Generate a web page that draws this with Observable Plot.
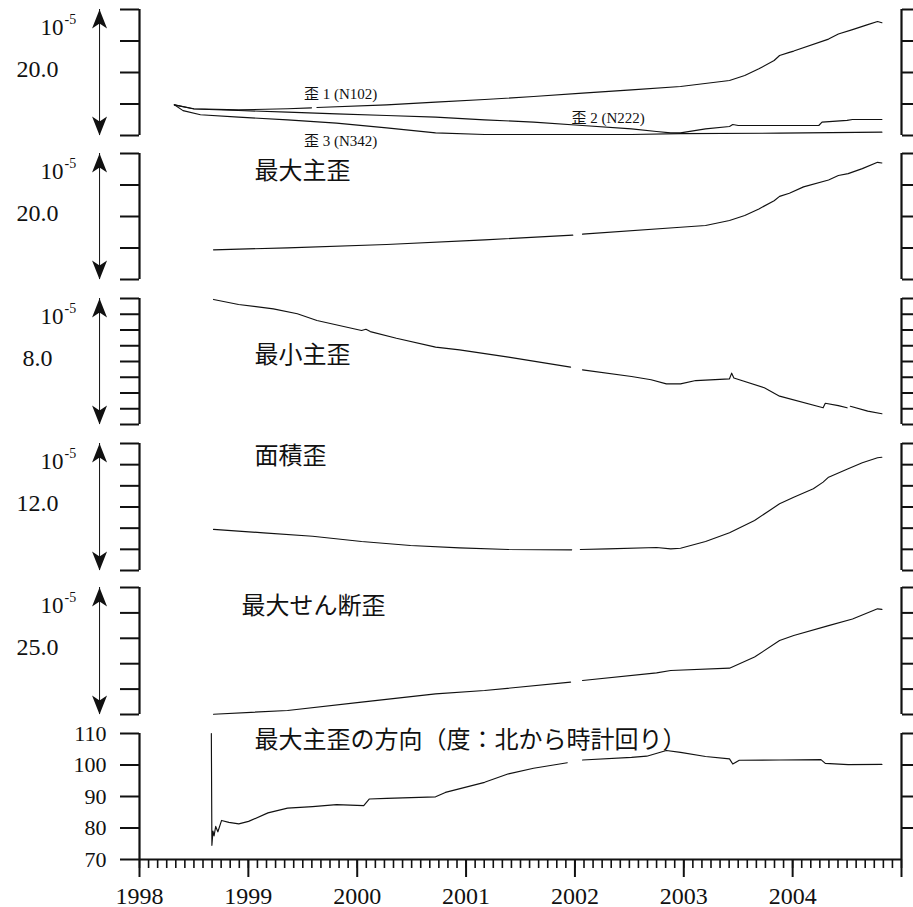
<!DOCTYPE html>
<html>
<head>
<meta charset="utf-8">
<script src="https://cdn.jsdelivr.net/npm/d3@7"></script>
<script src="https://cdn.jsdelivr.net/npm/@observablehq/plot@0.6"></script>
<style>
html, body { margin: 0; padding: 0; background: #fff; overflow: hidden; }
#chart { position: relative; width: 913px; height: 907px; }
#chart svg { position: absolute; left: 0; overflow: visible; background: transparent; font-family: 'Liberation Serif', serif; }
</style>
</head>
<body>
<div id="chart"></div>
<script>
// ---------------- data (decimal year, value) ----------------
// panel 1: strain components (10^-5)
const strain1 = [[1998.32,4.87],[1998.50,4.25],[1998.91,4.07],[1999.36,4.25],[1999.58,4.39],[1999.60,null],[1999.63,4.45],[2000.27,4.87],[2000.72,5.29],[2001.17,5.71],[2001.62,6.19],[2002.07,6.72],[2002.52,7.25],[2002.97,7.78],[2003.42,8.73],[2003.56,9.52],[2003.69,10.58],[2003.83,11.9],[2003.88,12.7],[2003.97,13.2],[2004.01,13.4],[2004.33,15.3],[2004.42,16.1],[2004.55,16.8],[2004.69,17.6],[2004.78,18.1],[2004.82,17.9]];
const strain2 = [[1998.32,4.87],[1998.50,4.2],[1998.91,3.97],[1999.36,3.7],[1999.81,3.44],[2000.27,3.17],[2000.72,2.91],[2001.17,2.49],[2001.62,2.12],[2002.07,1.59],[2002.52,1.06],[2002.75,0.63],[2002.88,0.42],[2002.97,0.42],[2003.20,1.06],[2003.42,1.43],[2003.45,1.75],[2003.50,1.59],[2004.24,1.59],[2004.27,2.12],[2004.50,2.4],[2004.55,2.54],[2004.82,2.54]];
const strain3 = [[1998.32,4.87],[1998.40,3.95],[1998.56,3.3],[1998.91,2.91],[1999.36,2.49],[1999.81,1.96],[2000.27,1.22],[2000.72,0.42],[2001.17,0.16],[2002.52,0.16],[2002.97,0.3],[2003.88,0.37],[2004.82,0.53]];
// panel 2: maximum principal strain
const maxPrincipal = [[1998.68,4.71],[1999.36,5.03],[2000.27,5.56],[2001.17,6.3],[2001.98,7.04],[2002.02,null],[2002.07,7.2],[2002.97,8.3],[2003.20,8.57],[2003.42,9.37],[2003.56,10.16],[2003.69,11.2],[2003.83,12.5],[2003.88,13.2],[2003.97,13.7],[2004.10,14.7],[2004.33,15.8],[2004.42,16.5],[2004.51,16.8],[2004.64,17.6],[2004.78,18.6],[2004.82,18.5]];
// panel 3: minimum principal strain
const minPrincipal = [[1998.68,7.94],[1998.91,7.62],[1999.23,7.34],[1999.45,7.03],[1999.63,6.6],[2000.04,5.97],[2000.08,6.05],[2000.12,5.9],[2000.36,5.48],[2000.72,4.91],[2000.94,4.74],[2001.39,4.28],[2001.96,3.64],[2002.0,null],[2002.07,3.47],[2002.52,3.05],[2002.70,2.84],[2002.84,2.58],[2002.97,2.58],[2003.11,2.79],[2003.42,2.9],[2003.44,3.26],[2003.46,2.95],[2003.74,2.33],[2003.88,1.8],[2004.28,1.06],[2004.30,1.35],[2004.42,1.2],[2004.50,1.06],[2004.51,null],[2004.53,1.16],[2004.69,0.85],[2004.82,0.68]];
// panel 4: areal strain
const arealStrain = [[1998.68,3.88],[1999.14,3.56],[1999.59,3.24],[2000.04,2.74],[2000.49,2.36],[2000.94,2.14],[2001.39,1.98],[2001.97,1.95],[2002.0,null],[2002.05,1.98],[2002.30,2.05],[2002.75,2.17],[2002.88,2.05],[2002.97,2.1],[2003.20,2.74],[2003.42,3.56],[2003.65,4.73],[2003.88,6.3],[2004.01,6.93],[2004.19,7.72],[2004.28,8.35],[2004.33,8.82],[2004.51,9.61],[2004.64,10.18],[2004.78,10.65],[2004.82,10.7]];
// panel 5: maximum shear strain
const maxShear = [[1998.68,0.05],[1999.36,0.79],[2000.04,2.43],[2000.72,4.07],[2001.17,4.72],[2001.96,6.36],[2002.0,null],[2002.07,6.69],[2002.75,8.2],[2002.88,8.66],[2003.42,9.12],[2003.65,11.3],[2003.88,14.57],[2004.01,15.55],[2004.33,17.5],[2004.55,18.8],[2004.78,20.8],[2004.82,20.7]];
// panel 6: direction of max principal strain (deg, clockwise from north)
const direction = [[1998.660,110],[1998.665,74.5],[1998.675,79],[1998.685,77.5],[1998.70,80.5],[1998.72,78.8],[1998.754,82.4],[1998.821,81.8],[1998.912,81.3],[1999.002,82.1],[1999.18,84.8],[1999.36,86.3],[1999.59,86.8],[1999.81,87.4],[2000.06,87.1],[2000.11,89.2],[2000.27,89.4],[2000.72,89.9],[2000.81,91.3],[2001.17,94.5],[2001.39,97.2],[2001.62,98.95],[2001.93,100.7],[2002.0,null],[2002.07,101.6],[2002.52,102.4],[2002.66,102.8],[2002.84,104.6],[2002.97,104.0],[2003.20,102.7],[2003.42,101.96],[2003.45,100.3],[2003.51,101.5],[2003.88,101.6],[2004.26,101.7],[2004.30,100.5],[2004.51,100.1],[2004.82,100.2]];

// ---------------- labels / ticks ----------------
const yearLabels = [1998, 1999, 2000, 2001, 2002, 2003, 2004];
const yearTicks = [1998, 1999, 2000, 2001, 2002, 2003, 2004, 2005];
const angleTicks = [70, 80, 90, 100, 110];
const scaleLabels = ["20.0", "20.0", "8.0", "12.0", "25.0"];
const panelTitles = [null, "最大主歪", "最小主歪", "面積歪", "最大せん断歪", "最大主歪の方向（度：北から時計回り）"];
const strainNames = ["歪 1 (N102)", "歪 2 (N222)", "歪 3 (N342)"];
const unitLabel = "10";
const unitExp = "-5";

// ---------------- layout ----------------
const INK = "#111";
const SERIF = "'Liberation Serif', serif";
const CJK = "'Noto Sans CJK JP', sans-serif";
const W = 913, ML = 139, MR = 12, MT = 9;
const XDOMAIN = [1998, 2005];
const ARROW_X = 1997.633;

const arrowUp = { draw(ctx) { ctx.moveTo(0, 0); ctx.lineTo(7.5, 19); ctx.lineTo(0, 14); ctx.lineTo(-7.5, 19); ctx.closePath(); } };
const arrowDown = { draw(ctx) { ctx.moveTo(0, 0); ctx.lineTo(7.5, -19); ctx.lineTo(0, -14); ctx.lineTo(-7.5, -19); ctx.closePath(); } };

const panels = [
  { series: [strain1, strain2, strain3], domain: [0, 20], step: 5, top: 9, bottom: 135 },
  { series: [maxPrincipal], domain: [0, 20], step: 5, top: 153, bottom: 279, titleDy: 18, titleDx: 115 },
  { series: [minPrincipal], domain: [0, 8], step: 1, top: 298, bottom: 424, titleDy: 57, titleDx: 115 },
  { series: [arealStrain], domain: [0, 12], step: 2, top: 443, bottom: 570, titleDy: 13, titleDx: 115 },
  { series: [maxShear], domain: [0, 25], step: 5, top: 587, bottom: 714, titleDy: 19, titleDx: 102 },
  { series: [direction], domain: [70, 110], step: 10, top: 733, bottom: 859, titleDy: 6.5, titleDx: 115, last: true }
];

const chart = document.getElementById("chart");

panels.forEach((p, i) => {
  const mb = p.last ? 48 : 9;
  const ticks = p.last ? angleTicks : d3.range(p.domain[0], p.domain[1] + p.step / 2, p.step);
  const marks = [];
  // frame sides
  marks.push(Plot.ruleX(XDOMAIN, { y1: p.domain[0], y2: p.domain[1], stroke: INK, strokeWidth: 2.2 }));
  // left ticks
  marks.push(Plot.axisY({
    anchor: "left", ticks, tickSize: 19, strokeWidth: 2, stroke: INK,
    tickPadding: 14, fontSize: 22, fontFamily: SERIF, fill: INK,
    tickFormat: p.last ? (d) => String(d) : () => ""
  }));
  // right ticks
  marks.push(Plot.axisY({
    anchor: "right", ticks: p.last ? ticks.filter(d => d > p.domain[0]) : ticks,
    tickSize: 12, strokeWidth: 2, stroke: INK, tickFormat: () => ""
  }));
  // data lines
  p.series.forEach(s => {
    marks.push(Plot.line(s, { x: d => d[0], y: d => d[1], stroke: INK, strokeWidth: 1.15, curve: "linear" }));
  });
  // title
  if (panelTitles[i]) {
    marks.push(Plot.text([panelTitles[i]], {
      frameAnchor: "top-left", dx: p.titleDx, dy: p.titleDy, textAnchor: "start", lineAnchor: "middle",
      fontFamily: CJK, fontSize: 24, fill: INK
    }));
  }
  if (!p.last) {
    // double-headed scale arrow
    marks.push(Plot.ruleX([ARROW_X], { y1: p.domain[0], y2: p.domain[1], stroke: INK, strokeWidth: 1 }));
    marks.push(Plot.dot([ARROW_X], { x: d => d, y: () => p.domain[1], symbol: arrowUp, fill: INK, stroke: "none", r: 6 }));
    marks.push(Plot.dot([ARROW_X], { x: d => d, y: () => p.domain[0], symbol: arrowDown, fill: INK, stroke: "none", r: 6 }));
    // unit label 10^-5
    marks.push(Plot.text([unitLabel], { frameAnchor: "top-left", dx: -76, dy: 18, textAnchor: "end", lineAnchor: "middle", fontFamily: SERIF, fontSize: 23, fill: INK }));
    marks.push(Plot.text([unitExp], { frameAnchor: "top-left", dx: -75, dy: 10, textAnchor: "start", lineAnchor: "middle", fontFamily: SERIF, fontSize: 14, fill: INK }));
    // scale magnitude
    marks.push(Plot.text([scaleLabels[i]], { frameAnchor: "top-left", dx: -102, dy: 60, textAnchor: "middle", lineAnchor: "middle", fontFamily: SERIF, fontSize: 24, fill: INK }));
  }
  if (i === 0) {
    const pos = [[164.5, 84.5], [432, 109], [164.5, 132]];
    strainNames.forEach((name, k) => {
      marks.push(Plot.text([name], {
        frameAnchor: "top-left", dx: pos[k][0], dy: pos[k][1], textAnchor: "start", lineAnchor: "middle",
        fontFamily: "'Liberation Serif', 'Noto Sans CJK JP', serif", fontSize: 15, fill: INK
      }));
    });
  }
  if (p.last) {
    // bottom axis line
    marks.push(Plot.ruleY([p.domain[0]], { x1: XDOMAIN[0], x2: XDOMAIN[1], stroke: INK, strokeWidth: 2.2 }));
    // monthly minor ticks
    marks.push(Plot.axisX({
      anchor: "bottom", ticks: d3.range(0, 85).map(m => 1998 + m / 12),
      tickSize: 9, strokeWidth: 1.6, stroke: INK, tickFormat: () => ""
    }));
    // year ticks + labels
    marks.push(Plot.axisX({
      anchor: "bottom", ticks: yearTicks, tickSize: 18, tickPadding: 9, strokeWidth: 2, stroke: INK,
      fontSize: 24, fontFamily: SERIF, fill: INK,
      tickFormat: d => (yearLabels.includes(d) ? String(d) : "")
    }));
  }

  const svg = Plot.plot({
    width: W,
    height: (p.bottom - p.top) + MT + mb,
    marginLeft: ML, marginRight: MR, marginTop: MT, marginBottom: mb,
    x: { domain: XDOMAIN, axis: null },
    y: { domain: p.domain, axis: null },
    style: "font-family: 'Liberation Serif', serif; font-size: 22px; background: transparent; overflow: visible; color: #111;",
    marks
  });
  svg.style.top = (p.top - MT) + "px";
  chart.appendChild(svg);
});
</script>
</body>
</html>
